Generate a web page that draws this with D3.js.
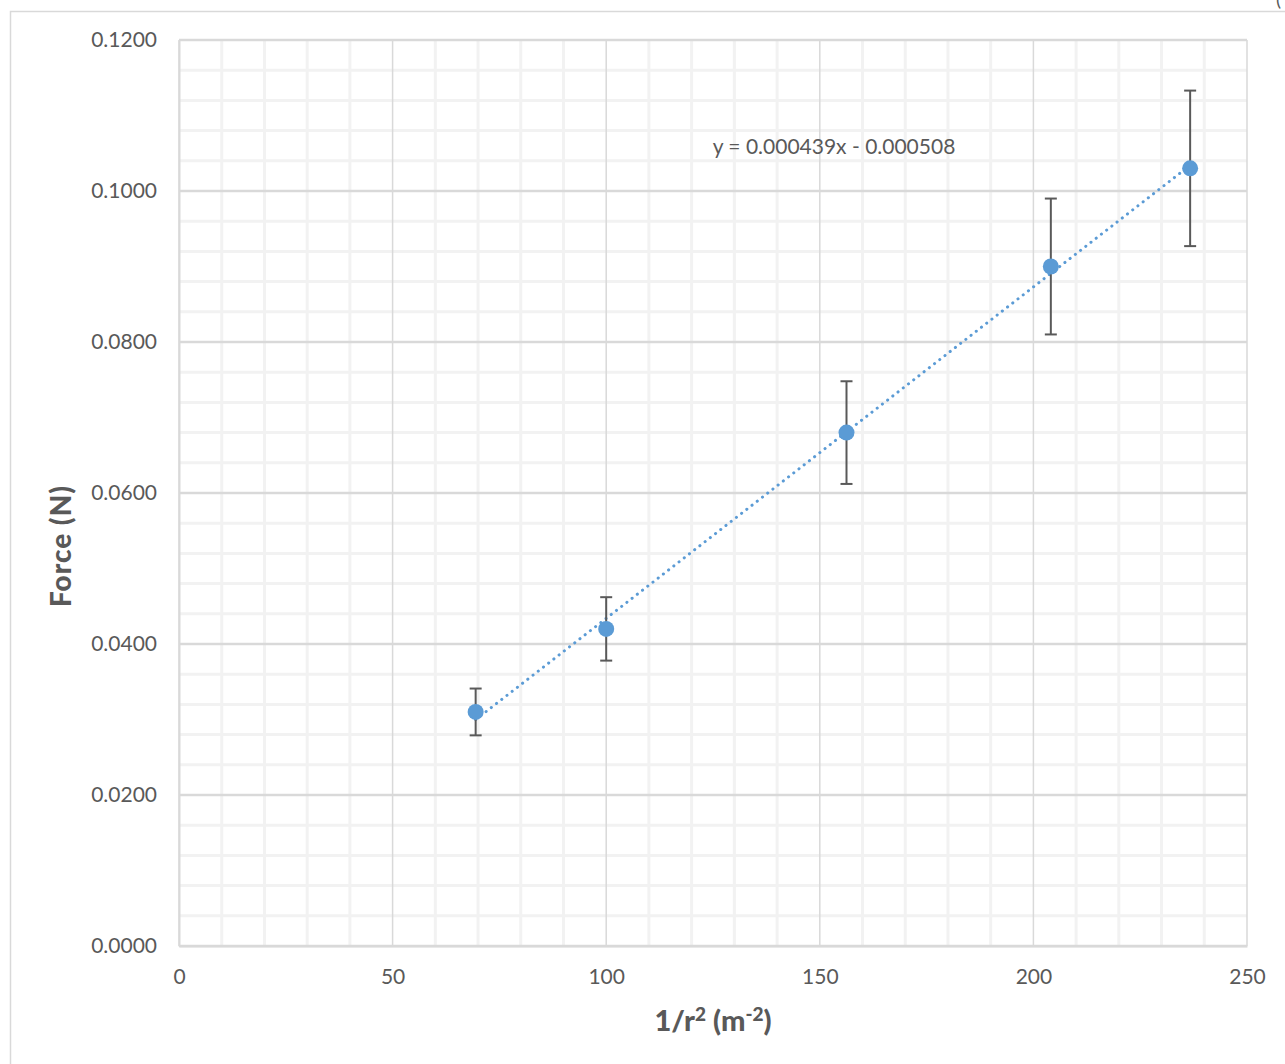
<!DOCTYPE html>
<html>
<head>
<meta charset="utf-8">
<script src="https://cdn.jsdelivr.net/npm/d3@7"></script>
<style>
  body { margin: 0; background: #fff; }
  text { font-family: Lato, "Open Sans", sans-serif; }
</style>
</head>
<body>
<div id="view"></div>
<script>
'use strict';

// 1/r^2 values (m^-2), force (N), and 10% error
const invR2 = [69.44, 100, 156.25, 204.08, 236.69];
const force = [0.031, 0.042, 0.068, 0.090, 0.103];
const forceErr = [0.0031, 0.0042, 0.0068, 0.0090, 0.0103];
const xTicks = [0, 50, 100, 150, 200, 250];
const yTicks = [0, 0.02, 0.04, 0.06, 0.08, 0.10, 0.12];
const fit = { slope: 0.000439, intercept: -0.000508 };

const size = { w: 1285, h: 1064 };
const plot = { left: 179, right: 1247, top: 40, bottom: 946 };

const presentation = {
  marker: '#5b9bd5',
  errorBar: '#595959',
  gridMajor: '#d9d9d9',
  gridMinor: '#f2f2f2',
  text: '#595959'
};

const svg = d3.select('#view').append('svg')
  .attr('width', size.w)
  .attr('height', size.h);

// chart frame (cut off on the right and bottom)
svg.append('path')
  .attr('d', `M10.5,${size.h} V11.5 H${size.w}`)
  .attr('fill', 'none')
  .attr('stroke', presentation.gridMajor)
  .attr('stroke-width', 1.5);

svg.append('text')
  .attr('x', 1276)
  .attr('y', 6)
  .attr('fill', presentation.text)
  .attr('font-size', 19)
  .text('(');

const x = d3.scaleLinear().domain([0, 250]).range([plot.left, plot.right]);
const y = d3.scaleLinear().domain([0, 0.12]).range([plot.bottom, plot.top]);

const gGrid = svg.append('g');

// minor grid
gGrid.selectAll('line.minorX')
  .data(d3.range(0, 251, 10).filter(v => v % 50 !== 0))
  .enter().append('line')
  .attr('x1', d => x(d)).attr('x2', d => x(d))
  .attr('y1', plot.top).attr('y2', plot.bottom)
  .attr('stroke', presentation.gridMinor)
  .attr('stroke-width', 3);

gGrid.selectAll('line.minorY')
  .data(d3.range(0, 31).map(i => i * 0.004).filter((v, i) => i % 5 !== 0))
  .enter().append('line')
  .attr('x1', plot.left).attr('x2', plot.right)
  .attr('y1', d => y(d)).attr('y2', d => y(d))
  .attr('stroke', presentation.gridMinor)
  .attr('stroke-width', 3);

// major grid
gGrid.selectAll('line.majorX')
  .data(xTicks)
  .enter().append('line')
  .attr('x1', d => x(d)).attr('x2', d => x(d))
  .attr('y1', plot.top).attr('y2', plot.bottom)
  .attr('stroke', presentation.gridMajor)
  .attr('stroke-width', 1.5);

gGrid.selectAll('line.majorY')
  .data(yTicks)
  .enter().append('line')
  .attr('x1', plot.left).attr('x2', plot.right)
  .attr('y1', d => y(d)).attr('y2', d => y(d))
  .attr('stroke', presentation.gridMajor)
  .attr('stroke-width', 2.5);

// axes
const xAxis = svg.append('g')
  .attr('transform', `translate(0,${plot.bottom})`)
  .call(d3.axisBottom(x).tickValues(xTicks).tickSize(0).tickPadding(23));
const yAxis = svg.append('g')
  .attr('transform', `translate(${plot.left},0)`)
  .call(d3.axisLeft(y).tickValues(yTicks).tickSize(0).tickPadding(22).tickFormat(d3.format('.4f')));

[xAxis, yAxis].forEach(g => {
  g.select('.domain').attr('stroke', presentation.gridMajor).attr('stroke-width', 2);
  g.selectAll('text')
    .attr('fill', presentation.text)
    .attr('font-size', 21)
    .style('font-family', 'Lato, "Open Sans", sans-serif');
});

// trendline
const xFit = d3.extent(invR2);
svg.append('line')
  .attr('x1', x(xFit[0])).attr('y1', y(fit.slope * xFit[0] + fit.intercept))
  .attr('x2', x(xFit[1])).attr('y2', y(fit.slope * xFit[1] + fit.intercept))
  .attr('stroke', presentation.marker)
  .attr('stroke-width', 3)
  .attr('stroke-linecap', 'round')
  .attr('stroke-dasharray', '0.1 6.5');

svg.append('text')
  .attr('x', 834)
  .attr('y', 154)
  .attr('text-anchor', 'middle')
  .attr('fill', presentation.text)
  .attr('font-size', 21)
  .text('y = 0.000439x - 0.000508');

// error bars
const points = invR2.map((v, i) => ({ x: v, y: force[i], e: forceErr[i] }));
const gErr = svg.append('g')
  .attr('stroke', presentation.errorBar)
  .attr('stroke-width', 2);

gErr.selectAll('line.bar')
  .data(points).enter().append('line')
  .attr('x1', d => x(d.x)).attr('x2', d => x(d.x))
  .attr('y1', d => y(d.y + d.e)).attr('y2', d => y(d.y - d.e));

gErr.selectAll('line.capTop')
  .data(points).enter().append('line')
  .attr('x1', d => x(d.x) - 6).attr('x2', d => x(d.x) + 6)
  .attr('y1', d => y(d.y + d.e)).attr('y2', d => y(d.y + d.e));

gErr.selectAll('line.capBottom')
  .data(points).enter().append('line')
  .attr('x1', d => x(d.x) - 6).attr('x2', d => x(d.x) + 6)
  .attr('y1', d => y(d.y - d.e)).attr('y2', d => y(d.y - d.e));

// markers
svg.selectAll('circle')
  .data(points).enter().append('circle')
  .attr('cx', d => x(d.x))
  .attr('cy', d => y(d.y))
  .attr('r', 8)
  .attr('fill', presentation.marker);

// axis titles
const xTitle = svg.append('text')
  .attr('x', 713)
  .attr('y', 1031)
  .attr('text-anchor', 'middle')
  .attr('fill', presentation.text)
  .attr('font-size', 29)
  .attr('font-weight', 900);
xTitle.append('tspan').text('1/r');
xTitle.append('tspan').attr('font-size', 19).attr('dy', -10).text('2');
xTitle.append('tspan').attr('dy', 10).text(' (m');
xTitle.append('tspan').attr('font-size', 19).attr('dy', -10).text('-2');
xTitle.append('tspan').attr('dy', 10).text(')');

svg.append('text')
  .attr('transform', 'translate(71,546) rotate(-90)')
  .attr('text-anchor', 'middle')
  .attr('fill', presentation.text)
  .attr('font-size', 28)
  .attr('font-weight', 900)
  .attr('letter-spacing', 1)
  .text('Force (N)');
</script>
</body>
</html>
